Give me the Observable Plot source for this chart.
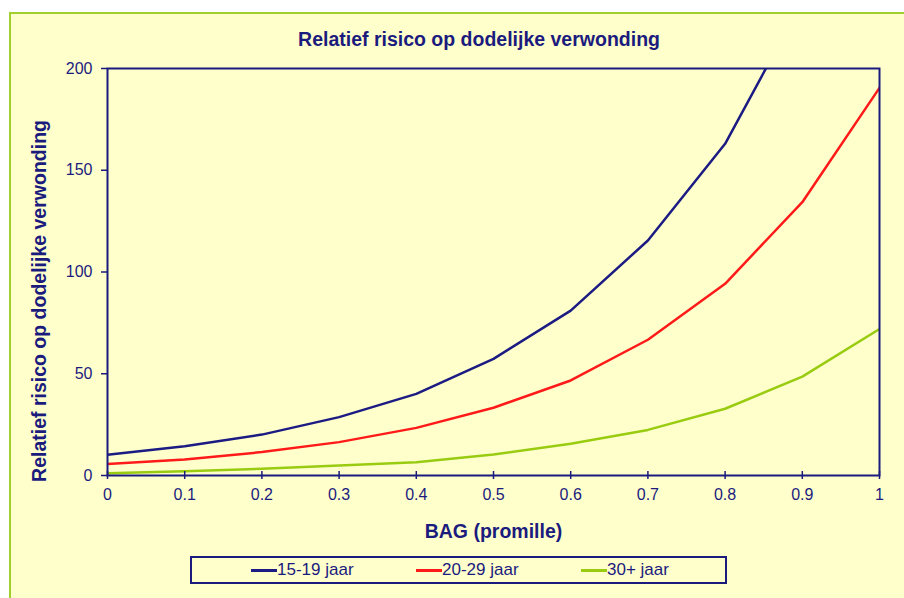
<!DOCTYPE html>
<html>
<head>
<meta charset="utf-8">
<script src="https://cdn.jsdelivr.net/npm/d3@7"></script>
<script src="https://cdn.jsdelivr.net/npm/@observablehq/plot@0.6"></script>
<style>
  html, body { margin: 0; padding: 0; background: #ffffff; }
  #wrap { position: relative; width: 904px; height: 598px; overflow: hidden; background: #ffffff; font-family: "Liberation Sans", Arial, sans-serif; }
  #panel { position: absolute; left: 9px; top: 12px; right: -4px; bottom: -4px; background: #FFFFCC; border-left: 2px solid #A2CF30; border-top: 2px solid #A2CF30; }
  #title { position: absolute; left: 0; width: 958px; top: 28px; text-align: center; font-weight: bold; font-size: 19.5px; line-height: 22px; color: #1B1B7E; }
  #chart { position: absolute; left: 0; top: 0; }
  #legend { position: absolute; left: 190px; top: 556px; width: 533px; height: 24px; border: 2px solid #1B1B7E; }
  .item { position: absolute; top: 2px; font-size: 17px; color: #1B1B7E; display: flex; align-items: center; height: 20px; }
  .swatch { display: inline-block; width: 26px; height: 3px; margin-right: 0px; }
</style>
</head>
<body>
<div id="wrap">
  <div id="panel"></div>
  <div id="title">Relatief risico op dodelijke verwonding</div>
  <div id="chart"></div>
  <div id="legend"></div>
</div>
<script>
const bag = [0, 0.1, 0.2, 0.3, 0.4, 0.5, 0.6, 0.7, 0.8, 0.9, 1];
const series = ["15-19 jaar", "20-29 jaar", "30+ jaar"];
const risk1519 = [10.2, 14.4, 20.1, 28.7, 40.1, 57.3, 81, 115.5, 163, 233, 330];
const risk2029 = [5.7, 7.9, 11.5, 16.4, 23.4, 33.3, 46.7, 66.7, 94.2, 134.3, 190.5];
const risk30 = [1.1, 2.1, 3.3, 4.9, 6.5, 10.3, 15.6, 22.4, 32.8, 48.6, 72];
const colors = ["#1B1B83", "#FF1A1A", "#99CC11"];
const xTicks = [0, 0.1, 0.2, 0.3, 0.4, 0.5, 0.6, 0.7, 0.8, 0.9, 1];
const xTickLabels = ["0", "0.1", "0.2", "0.3", "0.4", "0.5", "0.6", "0.7", "0.8", "0.9", "1"];
const yTicks = [0, 50, 100, 150, 200];

const navy = "#1B1B7E";
const allValues = [risk1519, risk2029, risk30];
const data = [];
series.forEach((s, i) => bag.forEach((b, j) => data.push({series: s, bag: b, risk: allValues[i][j]})));

const chart = Plot.plot({
  width: 904,
  height: 545,
  marginLeft: 107,
  marginRight: 25,
  marginTop: 68,
  marginBottom: 70,
  style: {background: "transparent", color: navy, fontFamily: "'Liberation Sans', Arial, sans-serif", fontSize: "16px", overflow: "visible"},
  x: {domain: [0, 1]},
  y: {domain: [0, 200]},
  color: {domain: series, range: colors},
  marks: [
    Plot.line(data, {x: "bag", y: "risk", stroke: "series", strokeWidth: 2.5, clip: true}),
    Plot.frame({stroke: navy, strokeWidth: 2}),
    Plot.axisY({ticks: yTicks, tickSize: 6, tickPadding: 9, strokeWidth: 1.5, fontSize: 16,
      label: "Relatief risico op dodelijke verwonding", labelAnchor: "center", labelOffset: 75, labelArrow: "none"}),
    Plot.axisX({ticks: xTicks, tickFormat: (d, i) => xTickLabels[i], tickSize: 4, tickPadding: 9, strokeWidth: 1.5, fontSize: 16,
      label: "BAG (promille)", labelAnchor: "center", labelOffset: 62, labelArrow: "none"}),
    Plot.axisX({ticks: xTicks, tickSize: -4, text: null, strokeWidth: 1.5, label: null})
  ]
});
// bold axis labels
chart.querySelectorAll("[aria-label='x-axis label'] text, [aria-label='y-axis label'] text, [aria-label='x-axis label'], [aria-label='y-axis label']").forEach(el => {
  el.setAttribute("font-weight", "bold");
  el.setAttribute("font-size", "19.5");
});
// the reference's y-axis title sits lower than the plot's centre
const yLab = chart.querySelector("[aria-label='y-axis label']");
if (yLab) yLab.setAttribute("transform", "translate(0,29) " + (yLab.getAttribute("transform") || ""));
document.getElementById("chart").appendChild(chart);

const legend = document.getElementById("legend");
const legendLeft = [59, 224, 389];
series.forEach((s, i) => {
  const it = document.createElement("div");
  it.className = "item";
  it.style.left = legendLeft[i] + "px";
  const sw = document.createElement("span");
  sw.className = "swatch";
  sw.style.background = colors[i];
  it.appendChild(sw);
  it.appendChild(document.createTextNode(s));
  legend.appendChild(it);
});
</script>
</body>
</html>
